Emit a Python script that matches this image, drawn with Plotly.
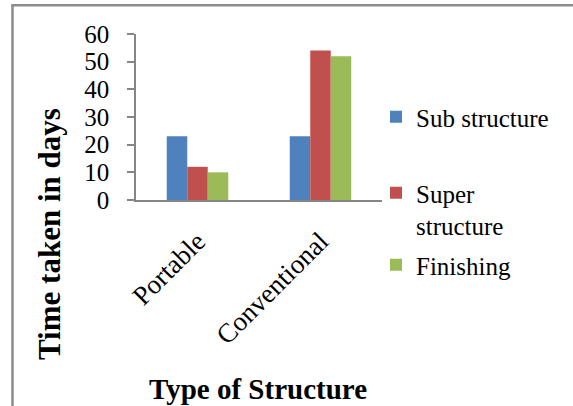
import plotly.graph_objects as go

# Data
categories = ["Portable", "Conventional"]
sub_structure = [23, 23]
super_structure = [12, 54]
finishing = [10, 52]
series_names = ["Sub structure", "Super<br>structure", "Finishing"]
y_ticks = [0, 10, 20, 30, 40, 50, 60]

colors = ["#4F81BD", "#C0504D", "#9BBB59"]
FONT = "Liberation Serif"
AXIS_GRAY = "#868686"

W, H = 573, 406
# plot area edges in pixels
L, R, T, B = 136, 382, 34, 200


def fx(px):
    return (px - L) / (R - L)


def fy(py):
    return (B - py) / (B - T)


fig = go.Figure()
legend_keys = ["legend", "legend2", "legend3"]
for name, vals, col, lg in zip(series_names,
                               [sub_structure, super_structure, finishing],
                               colors, legend_keys):
    fig.add_trace(go.Bar(x=categories, y=vals, name=name,
                         marker=dict(color=col, line=dict(width=0)),
                         legend=lg))

legend_tops = [94, 170, 242]
legend_cfg = {}
for key, top in zip(legend_keys, legend_tops):
    legend_cfg[key] = dict(
        x=fx(376), xanchor="left", y=fy(top), yanchor="top",
        font=dict(family=FONT, size=25, color="black"),
        bgcolor="rgba(0,0,0,0)", borderwidth=0, valign="top",
        itemclick=False, itemdoubleclick=False,
    )

fig.update_layout(
    width=W, height=H,
    margin=dict(l=L, r=W - R, t=T, b=H - B, autoexpand=False),
    paper_bgcolor="white", plot_bgcolor="white",
    barmode="group", bargap=0.5, bargroupgap=0,
    showlegend=True,
    font=dict(family=FONT, color="black"),
    **legend_cfg,
)

fig.update_xaxes(
    range=[-0.5, 1.5], showline=True, linecolor=AXIS_GRAY, linewidth=1.5,
    ticks="", tickangle=-45, tickfont=dict(family=FONT, size=27, color="black"),
    ticklabelstandoff=13, showgrid=False, zeroline=False,
)
fig.update_yaxes(
    range=[0, 60], tickvals=y_ticks, showline=True, linecolor=AXIS_GRAY,
    linewidth=1.5, ticks="outside", ticklen=7, tickcolor=AXIS_GRAY, tickwidth=1.5,
    tickfont=dict(family=FONT, size=25, color="black"), ticklabelstandoff=13,
    showgrid=False, zeroline=False,
)

# axis titles
fig.add_annotation(text="<b>Time taken in days</b>", textangle=-90,
                   x=fx(50), y=fy(234), xref="paper", yref="paper",
                   xanchor="center", yanchor="middle",
                   showarrow=False, font=dict(family=FONT, size=31, color="black"))
fig.add_annotation(text="<b>Type of Structure</b>",
                   x=fx(258), y=fy(389), xref="paper", yref="paper",
                   xanchor="center", yanchor="middle",
                   showarrow=False, font=dict(family=FONT, size=29, color="black"))

# chart frame (runs off the right and bottom edges)
fig.add_shape(type="line", xref="paper", yref="paper",
              x0=fx(12.5), y0=fy(5.3), x1=fx(12.5), y1=fy(430),
              line=dict(color="#8c8c8c", width=2.5))
fig.add_shape(type="line", xref="paper", yref="paper",
              x0=fx(11.25), y0=fy(5.3), x1=fx(600), y1=fy(5.3),
              line=dict(color="#8c8c8c", width=2.5))

fig.write_html("out.html")
